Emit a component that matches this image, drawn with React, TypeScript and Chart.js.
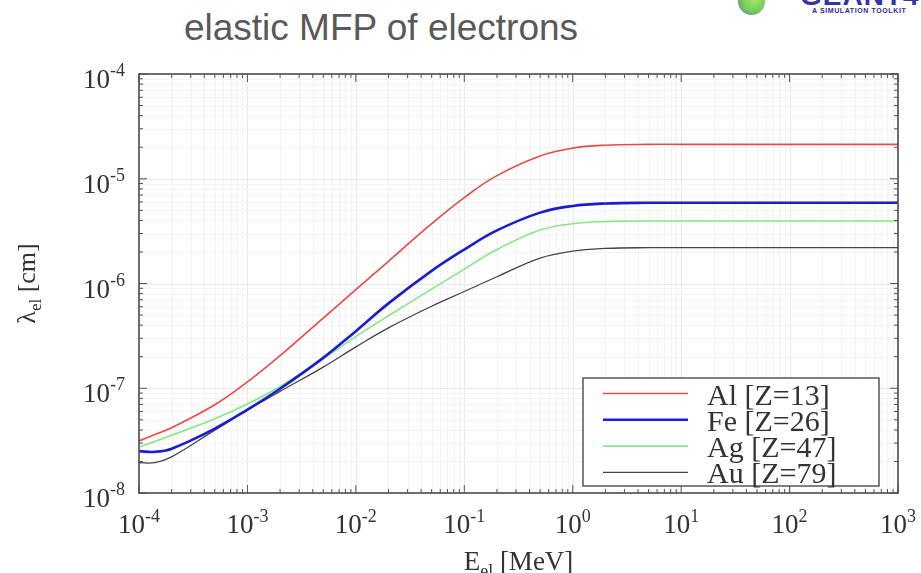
import React, { useEffect, useRef } from "react";
import { Chart, registerables } from "chart.js";

Chart.register(...registerables);

// ---- data ----
const energyMeV = [1e-4, 1.4e-4, 2e-4, 5e-4, 1e-3, 2e-3, 5e-3, 1e-2, 2e-2, 5e-2, 0.1, 0.2, 0.5, 1, 2, 5, 10, 100, 1000];
const mfpAl = [3.14e-8, 3.61e-8, 4.2e-8, 6.95e-8, 1.15e-7, 2.05e-7, 4.68e-7, 8.73e-7, 1.63e-6, 3.72e-6, 6.61e-6, 1.07e-5, 1.65e-5, 1.96e-5, 2.09e-5, 2.13e-5, 2.13e-5, 2.13e-5, 2.13e-5];
const mfpFe = [2.51e-8, 2.47e-8, 2.65e-8, 4.12e-8, 6.25e-8, 9.89e-8, 1.95e-7, 3.51e-7, 6.46e-7, 1.32e-6, 2.11e-6, 3.21e-6, 4.75e-6, 5.5e-6, 5.81e-6, 5.9e-6, 5.9e-6, 5.9e-6, 5.9e-6];
const mfpAg = [2.75e-8, 3.1e-8, 3.55e-8, 5.12e-8, 7.08e-8, 1.04e-7, 1.91e-7, 3.11e-7, 4.92e-7, 8.85e-7, 1.37e-6, 2.11e-6, 3.24e-6, 3.72e-6, 3.9e-6, 3.95e-6, 3.95e-6, 3.95e-6, 3.95e-6];
const mfpAu = [1.95e-8, 1.95e-8, 2.21e-8, 3.98e-8, 6.17e-8, 9.33e-8, 1.59e-7, 2.48e-7, 3.77e-7, 6.07e-7, 8.39e-7, 1.16e-6, 1.75e-6, 2.04e-6, 2.16e-6, 2.2e-6, 2.2e-6, 2.2e-6, 2.2e-6];
const seriesLabels = ["Al [Z=13]", "Fe [Z=26]", "Ag [Z=47]", "Au [Z=79]"];
const seriesColors = ["#ec4848", "#1c1cd0", "#84e884", "#444444"];
const seriesWidths = [1.6, 2.6, 1.6, 1.3];

const xTickValues = [1e-4, 1e-3, 1e-2, 1e-1, 1, 10, 100, 1000];
const xTickExponents = ["-4", "-3", "-2", "-1", "0", "1", "2", "3"];
const yTickValues = [1e-8, 1e-7, 1e-6, 1e-5, 1e-4];
const yTickExponents = ["-8", "-7", "-6", "-5", "-4"];

const titleText = "elastic MFP of electrons";
const SERIF = '"Liberation Serif", "Times New Roman", serif';

const decorPlugin = {
  id: "decor",
  beforeDatasetsDraw(chart: any) {
    const { ctx, chartArea: a, scales } = chart;
    const x = scales.x;
    const y = scales.y;
    ctx.save();
    ctx.lineWidth = 1;
    for (let i = 0; i < xTickValues.length - 1; i++) {
      for (let m = 1; m <= 9; m++) {
        const v = xTickValues[i] * m;
        const px = Math.round(x.getPixelForValue(v)) + 0.5;
        if (px <= a.left + 1 || px >= a.right - 1) continue;
        ctx.strokeStyle = m === 1 ? "#e9e9e9" : "#f3f3f3";
        ctx.beginPath();
        ctx.moveTo(px, a.top);
        ctx.lineTo(px, a.bottom);
        ctx.stroke();
      }
    }
    for (let i = 0; i < yTickValues.length - 1; i++) {
      for (let m = 1; m <= 9; m++) {
        const v = yTickValues[i] * m;
        const py = Math.round(y.getPixelForValue(v)) + 0.5;
        if (py <= a.top + 1 || py >= a.bottom - 1) continue;
        ctx.strokeStyle = m === 1 ? "#e9e9e9" : "#f3f3f3";
        ctx.beginPath();
        ctx.moveTo(a.left, py);
        ctx.lineTo(a.right, py);
        ctx.stroke();
      }
    }
    ctx.restore();
  },
  afterDatasetsDraw(chart: any) {
    const { ctx, chartArea: a, scales } = chart;
    const x = scales.x;
    const y = scales.y;
    ctx.save();
    // tick marks (inward, all four sides)
    ctx.strokeStyle = "#555";
    ctx.lineWidth = 1;
    for (let i = 0; i < xTickValues.length; i++) {
      for (let m = 1; m <= 9; m++) {
        if (i === xTickValues.length - 1 && m > 1) break;
        const px = x.getPixelForValue(xTickValues[i] * m);
        const len = m === 1 ? 8 : 4;
        ctx.beginPath();
        ctx.moveTo(px, a.bottom);
        ctx.lineTo(px, a.bottom - len);
        ctx.moveTo(px, a.top);
        ctx.lineTo(px, a.top + len);
        ctx.stroke();
      }
    }
    for (let i = 0; i < yTickValues.length; i++) {
      for (let m = 1; m <= 9; m++) {
        if (i === yTickValues.length - 1 && m > 1) break;
        const py = y.getPixelForValue(yTickValues[i] * m);
        const len = m === 1 ? 8 : 4;
        ctx.beginPath();
        ctx.moveTo(a.left, py);
        ctx.lineTo(a.left + len, py);
        ctx.moveTo(a.right, py);
        ctx.lineTo(a.right - len, py);
        ctx.stroke();
      }
    }
    // frame
    ctx.lineWidth = 1.6;
    ctx.strokeStyle = "#4a4a4a";
    ctx.strokeRect(a.left, a.top, a.right - a.left, a.bottom - a.top);

    // tick labels
    ctx.fillStyle = "#333";
    ctx.textBaseline = "alphabetic";
    const big = `27px ${SERIF}`;
    const small = `18px ${SERIF}`;
    xTickValues.forEach((v, i) => {
      const px = x.getPixelForValue(v);
      ctx.font = big;
      const w1 = ctx.measureText("10").width;
      ctx.font = small;
      const w2 = ctx.measureText(xTickExponents[i]).width;
      const start = px - (w1 + w2) / 2;
      ctx.textAlign = "left";
      ctx.font = big;
      ctx.fillText("10", start, a.bottom + 40);
      ctx.font = small;
      ctx.fillText(xTickExponents[i], start + w1, a.bottom + 29);
    });
    yTickValues.forEach((v, i) => {
      const py = y.getPixelForValue(v);
      const right = a.left - 14;
      ctx.font = small;
      const w2 = ctx.measureText(yTickExponents[i]).width;
      ctx.textAlign = "right";
      ctx.fillText(yTickExponents[i], right, py + 2);
      ctx.font = big;
      ctx.fillText("10", right - w2, py + 14);
    });

    // x-axis title: E_el [MeV]
    {
      const parts = [
        { t: "E", f: big, dy: 0 },
        { t: "el", f: small, dy: 7 },
        { t: " [MeV]", f: big, dy: 0 },
      ];
      let total = 0;
      parts.forEach((p) => {
        ctx.font = p.f;
        total += ctx.measureText(p.t).width;
      });
      let cx = (a.left + a.right) / 2 - total / 2;
      ctx.textAlign = "left";
      parts.forEach((p) => {
        ctx.font = p.f;
        ctx.fillText(p.t, cx, a.bottom + 77 + p.dy);
        cx += ctx.measureText(p.t).width;
      });
    }
    // y-axis title: λ_el [cm]
    {
      const parts = [
        { t: "λ", f: `26px ${SERIF}`, dy: 0 },
        { t: "el", f: `17px ${SERIF}`, dy: 6 },
        { t: " [cm]", f: `26px ${SERIF}`, dy: 0 },
      ];
      let total = 0;
      parts.forEach((p) => {
        ctx.font = p.f;
        total += ctx.measureText(p.t).width;
      });
      ctx.save();
      ctx.translate(35, (a.top + a.bottom) / 2);
      ctx.rotate(-Math.PI / 2);
      let cx = -total / 2;
      ctx.textAlign = "left";
      parts.forEach((p) => {
        ctx.font = p.f;
        ctx.fillText(p.t, cx, p.dy);
        cx += ctx.measureText(p.t).width;
      });
      ctx.restore();
    }

    // legend box
    const lx = 583, ly = 378, lw = 296, lh = 108;
    ctx.fillStyle = "#fff";
    ctx.fillRect(lx, ly, lw, lh);
    ctx.strokeStyle = "#4a4a4a";
    ctx.lineWidth = 1.4;
    ctx.strokeRect(lx, ly, lw, lh);
    chart.data.datasets.forEach((ds: any, i: number) => {
      const rowY = 393.5 + i * 26.3;
      ctx.strokeStyle = ds.borderColor;
      ctx.lineWidth = ds.borderWidth;
      ctx.beginPath();
      ctx.moveTo(603, rowY);
      ctx.lineTo(688, rowY);
      ctx.stroke();
      ctx.fillStyle = "#333";
      ctx.font = `30px ${SERIF}`;
      ctx.textAlign = "left";
      ctx.fillText(ds.label, 707, rowY + 11);
    });
    ctx.restore();
  },
};

export default function App() {
  const canvasRef = useRef<HTMLCanvasElement | null>(null);

  useEffect(() => {
    if (!canvasRef.current) return;
    const series = [mfpAl, mfpFe, mfpAg, mfpAu];
    const chart = new Chart(canvasRef.current, {
      type: "line",
      data: {
        datasets: series.map((vals, i) => ({
          label: seriesLabels[i],
          data: energyMeV.map((e, j) => ({ x: e, y: vals[j] })),
          borderColor: seriesColors[i],
          backgroundColor: seriesColors[i],
          borderWidth: seriesWidths[i],
          pointRadius: 0,
          fill: false,
          tension: 0.4,
        })),
      },
      options: {
        responsive: false,
        animation: false,
        devicePixelRatio: 1,
        layout: { padding: { left: 139, top: 74, right: 23, bottom: 80 } },
        plugins: { legend: { display: false }, tooltip: { enabled: false } },
        scales: {
          x: { type: "logarithmic", min: 1e-4, max: 1e3, display: false },
          y: { type: "logarithmic", min: 1e-8, max: 1e-4, display: false },
        },
      },
      plugins: [decorPlugin],
    } as any);
    return () => chart.destroy();
  }, []);

  return (
    <div
      style={{
        position: "fixed",
        left: 0,
        top: 0,
        width: 921,
        height: 573,
        background: "#fff",
        overflow: "hidden",
      }}
    >
      <div
        style={{
          position: "absolute",
          left: 131,
          top: 9,
          width: 500,
          textAlign: "center",
          font: '37px "Liberation Sans", Arial, sans-serif',
          lineHeight: "37px",
          color: "#595959",
          whiteSpace: "nowrap",
        }}
      >
        {titleText}
      </div>
      <div
        style={{
          position: "absolute",
          left: 738,
          top: -12,
          width: 27,
          height: 27,
          borderRadius: "50%",
          background: "radial-gradient(circle at 60% 40%, #9be04a 0%, #5cc23a 55%, #3a4fc0 100%)",
          opacity: 0.85,
        }}
      />
      <div
        style={{
          position: "absolute",
          left: 800,
          top: -18,
          font: 'bold 28px "Liberation Sans", Arial, sans-serif',
          lineHeight: "28px",
          color: "#3434a8",
          letterSpacing: 1,
          whiteSpace: "nowrap",
        }}
      >
        GEANT4
      </div>
      <div
        style={{
          position: "absolute",
          left: 812,
          top: 7,
          font: 'bold 7px "Liberation Sans", Arial, sans-serif',
          lineHeight: "8px",
          color: "#2c2c90",
          letterSpacing: 0.6,
          whiteSpace: "nowrap",
        }}
      >
        A SIMULATION TOOLKIT
      </div>
      <canvas
        ref={canvasRef}
        width={921}
        height={573}
        style={{ position: "absolute", left: 0, top: 0, width: 921, height: 573 }}
      />
    </div>
  );
}
